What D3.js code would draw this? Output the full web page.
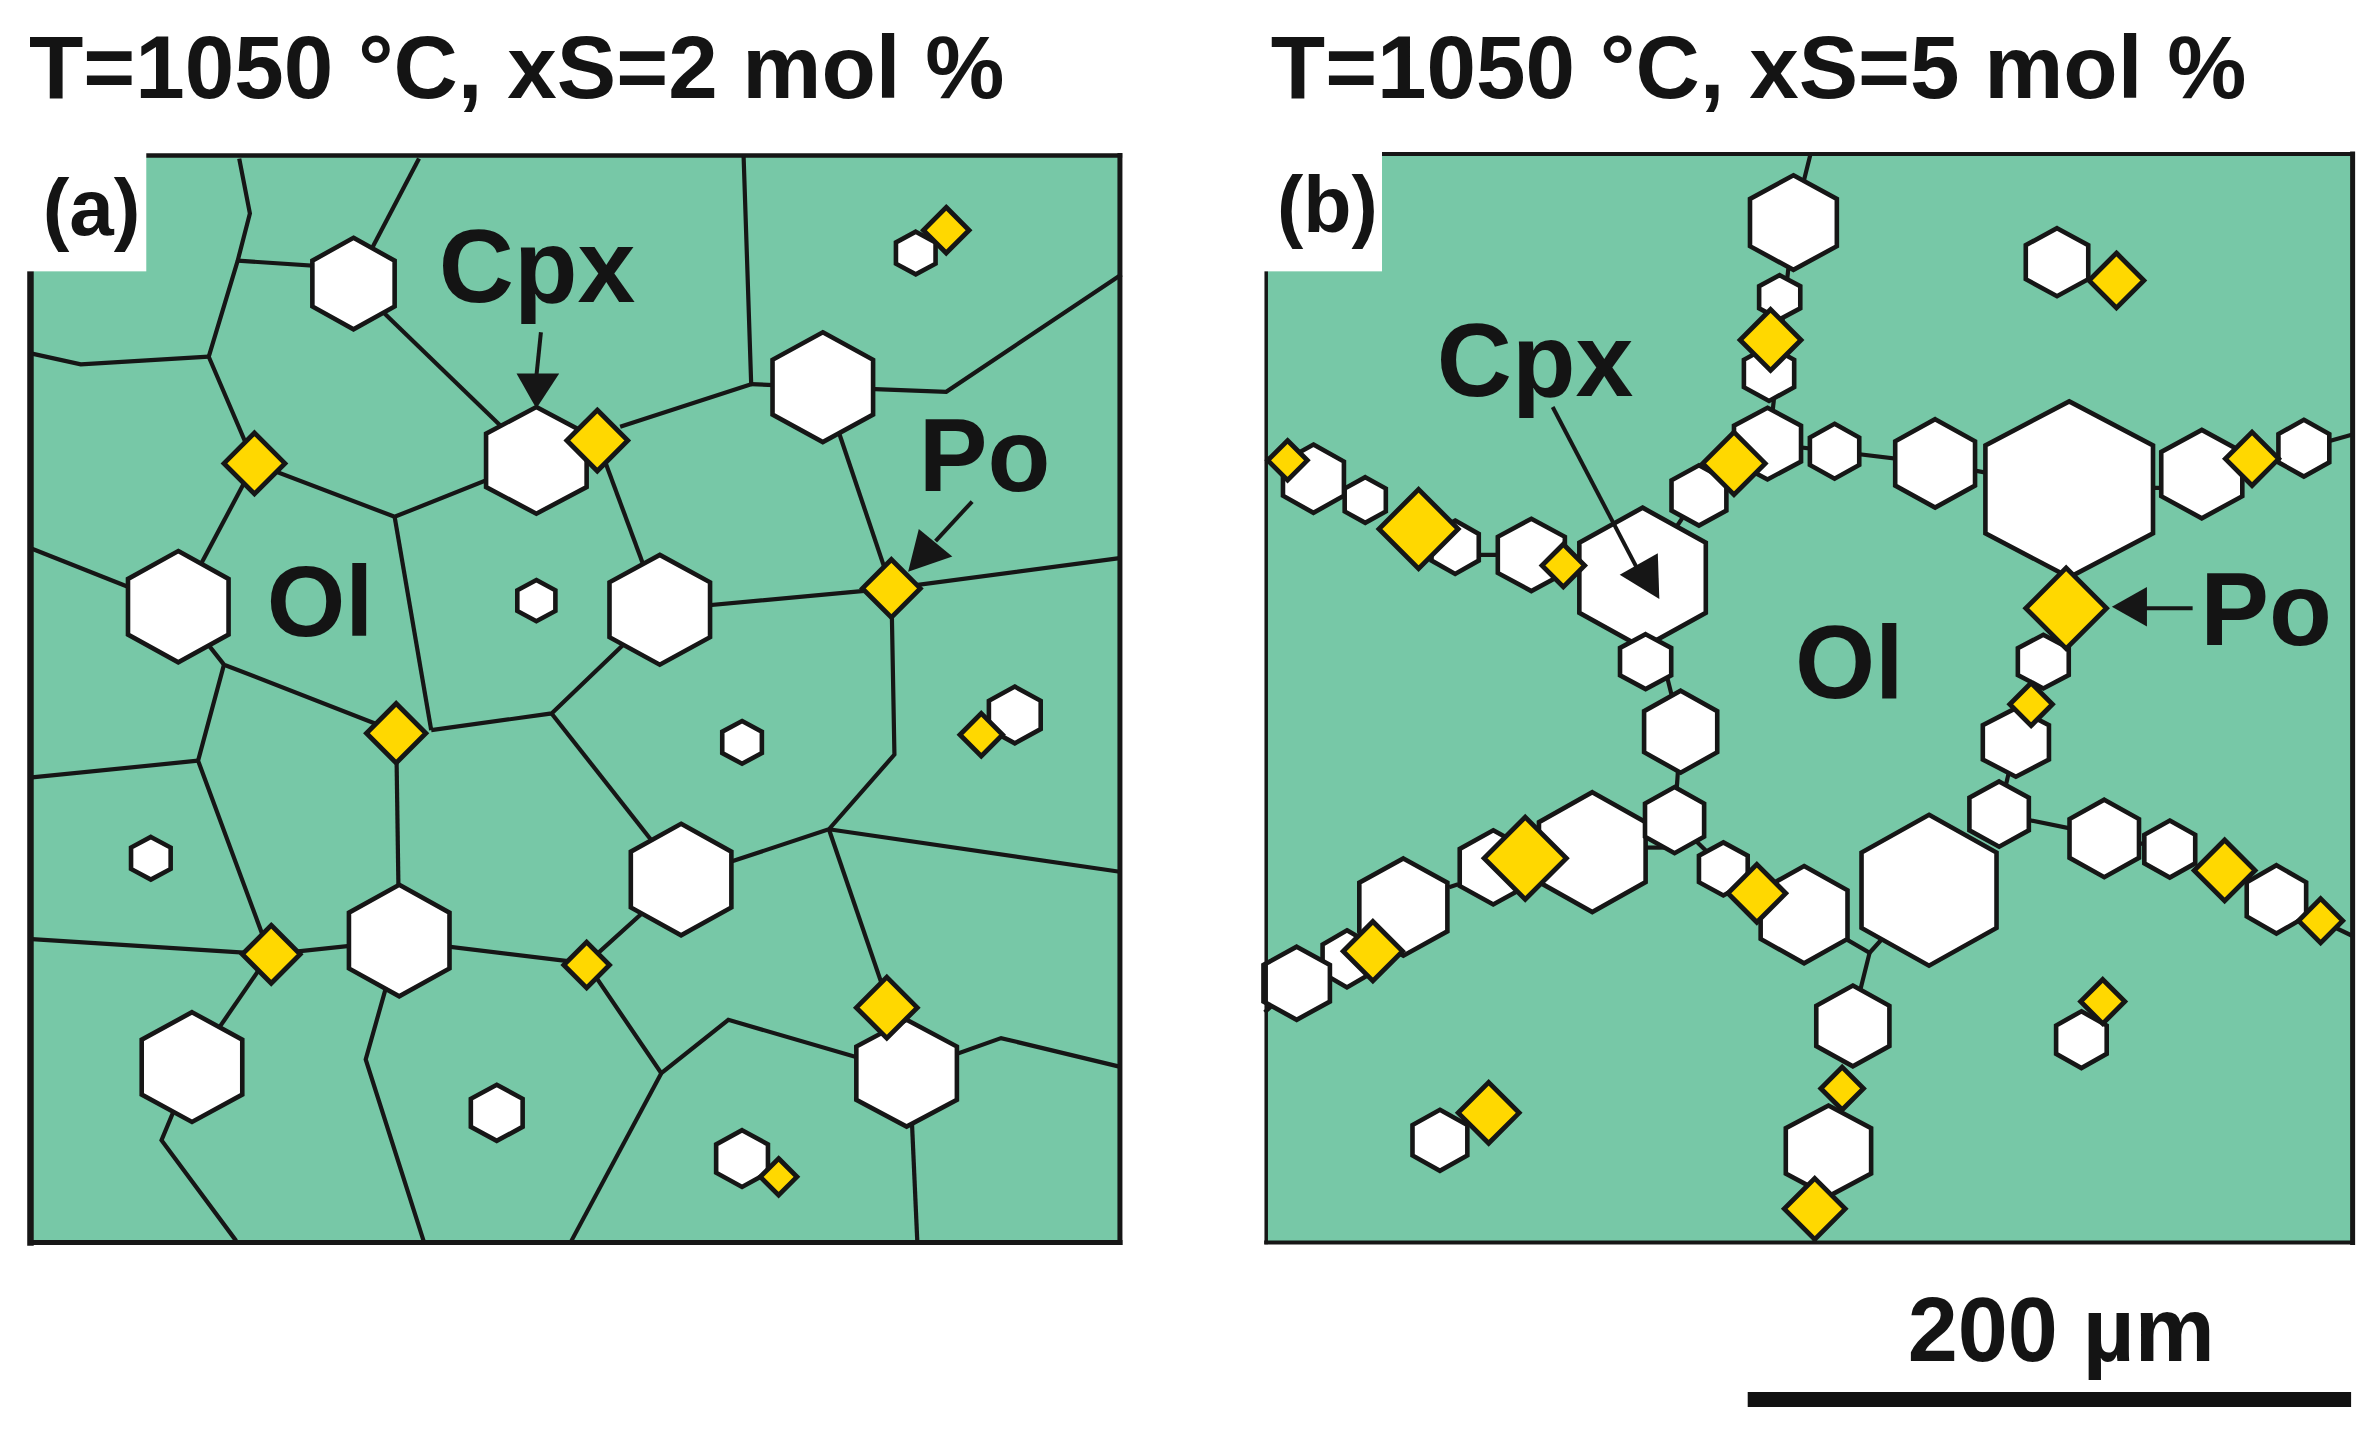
<!DOCTYPE html>
<html>
<head>
<meta charset="utf-8">
<script src="https://cdn.jsdelivr.net/npm/d3@7"></script>
<style>
  html, body { margin: 0; padding: 0; background: #fff; }
  text { font-family: "Liberation Sans", Arial, sans-serif; font-weight: bold; fill: #141414; }
</style>
</head>
<body>
<div id="chart"></div>
<script>

// panels: x0, y0, x1, y1
const panels = [[20, 102, 735, 815], [831, 101, 1544, 815]];
const labelBoxes = [[17, 98, 96, 178], [829, 98, 907, 178]];
// frame thickness: top, right, bottom, left
const frameWidths = [[4.5, 5, 5, 6.5], [4, 5, 4, 3.5]];

// grain boundaries, panel a
const linesA = [
  [[157,104],[164,140],[156,171],[137,234],[167,304]],
  [[156,171],[232,176]],
  [[275,104],[232,186]],
  [[232,186],[352,302]],
  [[21,232],[53,239],[137,234]],
  [[167,304],[259,339],[352,302]],
  [[259,339],[283,479]],
  [[488,102],[493,252],[407,280]],
  [[493,252],[540,254]],
  [[540,254],[621,257],[736,180]],
  [[551,285],[585,386]],
  [[392,289],[422,370]],
  [[433,400],[585,386],[736,366]],
  [[21,360],[117,398]],
  [[167,304],[117,398]],
  [[117,398],[147,436],[260,480]],
  [[147,436],[130,499],[177,626]],
  [[21,510],[130,499]],
  [[21,616],[177,626],[262,617],[385,632]],
  [[177,626],[126,700]],
  [[283,479],[362,468],[433,400]],
  [[362,468],[447,576]],
  [[260,480],[262,617]],
  [[126,700],[106,748],[155,814]],
  [[262,617],[240,695],[278,814]],
  [[585,386],[587,495],[544,544],[447,576]],
  [[544,544],[736,572]],
  [[544,544],[584,661]],
  [[447,576],[385,632],[434,704],[478,669],[595,703]],
  [[595,703],[657,681],[736,700]],
  [[434,704],[375,814]],
  [[597,703],[602,814]]
];

// grain boundaries, panel b
const linesB = [
  [[1188,102],[1177,146]],
  [[1177,146],[1161,291]],
  [[1160,291],[1204,296]],
  [[1114,325],[1078,379]],
  [[1204,296],[1270,304]],
  [[1270,304],[1358,320]],
  [[1358,320],[1445,320]],
  [[1512,294],[1544,285]],
  [[831,301],[845,301]],
  [[954,364],[1004,364]],
  [[1078,379],[1103,480]],
  [[1103,480],[1099,538]],
  [[1080,556],[1094,556]],
  [[1099,538],[1131,569]],
  [[951,582],[957,580]],
  [[830,664],[851,645]],
  [[851,645],[884,629]],
  [[1184,600],[1227,625],[1265,583]],
  [[1227,625],[1215,673]],
  [[1312,534],[1381,548]],
  [[1312,534],[1323,487]],
  [[1381,550],[1424,556]],
  [[1494,590],[1544,614]],
  [[1191,793],[1191,815]]
];

// Cpx grains: x, y, half height, half width
const hexA = [
  [232,186,30,27], [352,302,35,33], [117,398,36.5,33], [352,394,13.5,12.5],
  [433,400,36,33], [540,254,36,33], [601,166,14,13], [666,469,18.6,17],
  [487,487,14,13], [99,563,14,13], [447,577,36.6,33], [262,617,36.6,33],
  [126,700,36,33], [326,730,18.4,17], [595,704,35,33], [487,760,18.6,17]
];
const hexB = [
  [1177,146,31,28.5], [1168,195,14.5,13.5], [1161,245,18,16.5], [1160,291,23.5,22],
  [1115,325,19.8,18], [1204,296,18,16.2], [1078,379,46,41.5], [862,314,22.4,20],
  [896,328,15,13.5], [955,359,17.5,15.5], [1005,364,23.7,22], [1350,172,22.3,20.5],
  [1270,304,29,26.2], [1358,321,57.7,55], [1445,311,29,26.6], [1512,294,18.6,16.7],
  [1080,434,18,16.8], [1103,480,26.9,24], [1045,559,39.3,35], [1099,538,21.7,19.4],
  [980,569,24.3,22], [921,595,31.9,28.9], [884,629,18.7,16], [851,645,24,21.8],
  [945,748,20,18], [1131,570,17.4,16], [1184,600,31.9,28.5], [1266,584,49.5,44.3],
  [1323,487,22.5,21.7], [1341,434,17.6,16.7], [1312,534,21.4,19.5], [1381,550,25.4,22.8],
  [1424,557,18.7,16.7], [1494,590,22.4,19.5], [1216,673,26.5,24], [1200,755,29.8,28],
  [1366,682,18.6,16.6]
];

// Po grains: x, y, half diagonal
const diaA = [
  [167,304,20], [392,289,20], [585,386,19], [621,151,15], [260,481,19.5],
  [644,482,14], [178,626,19], [385,633,15], [582,661,20], [511,772,12]
];
const diaB = [
  [1162,223,20], [1138,304,20.5], [845,302,13], [931,347,26], [1026,371,14],
  [1389,184,18], [1478,301,17.5], [1356,399,26.5], [1001,563,27], [901,624,19.5],
  [977,730,20], [1153,586,19], [1333,462,14], [1460,571,20], [1523,604,14.5],
  [1209,714,14], [1191,793,20], [1380,657,14.5]
];

// arrows: shaft from, shaft to, then the three corners of the head
const arrows = [
  [[355,218],[352,247],[339,245],[367,245],[352,268]],
  [[638,329],[614,355],[603,347],[625,365],[596,375]],
  [[1019,267],[1074,372],[1088,363],[1089,393],[1063,377]],
  [[1439,399],[1405,399],[1409,385],[1409,411],[1386,398]]
];

// text: string, x, baseline, font size in px
const labels = [
  ["T=1050 °C, xS=2 mol %", 19, 64, 89],
  ["T=1050 °C, xS=5 mol %", 834, 64, 89],
  ["(a)", 28, 154, 80],
  ["(b)", 838, 152, 79],
  ["Cpx", 288, 198, 104],
  ["Po", 603, 322, 103],
  ["Ol", 175, 417, 101],
  ["Cpx", 943, 260, 104],
  ["Ol", 1178, 458, 103],
  ["Po", 1444, 423, 103],
  ["200 µm", 1252, 893, 90]
];

const scaleBar = [1147, 918, 1543];

const width = 2377, height = 1436;
const x = d3.scaleLinear().domain([0, 1560]).range([0, width]);
const y = d3.scaleLinear().domain([0, 942]).range([0, height]);

const ink = "#161616";
const line = d3.line().x(d => x(d[0])).y(d => y(d[1]));

const svg = d3.select("#chart").append("svg")
  .attr("width", width)
  .attr("height", height)
  .style("display", "block");

// hexagon with points up and down
function hexPoints(d) {
  const [cx, cy, r, w] = d;
  return [[cx,cy-r],[cx+w,cy-r/2],[cx+w,cy+r/2],[cx,cy+r],[cx-w,cy+r/2],[cx-w,cy-r/2]];
}

function diamondPoints(d) {
  const [cx, cy, r] = d;
  return [[cx,cy-r],[cx+r,cy],[cx,cy+r],[cx-r,cy]];
}

function drawPanel(box, frame, labelBox, lines, hexes, diamonds) {
  let g = svg.append("g");
  const [x0, y0, x1, y1] = box;

  g.append("rect")
    .attr("x", x(x0))
    .attr("y", y(y0))
    .attr("width", x(x1) - x(x0))
    .attr("height", y(y1) - y(y0))
    .attr("fill", "#77c8a7");

  g.selectAll("path.boundary")
    .data(lines)
    .enter()
    .append("path")
    .attr("class", "boundary")
    .attr("d", line)
    .attr("fill", "none")
    .attr("stroke", ink)
    .attr("stroke-width", 4.2);

  g.selectAll("path.hex")
    .data(hexes)
    .enter()
    .append("path")
    .attr("class", "hex")
    .attr("d", d => line(hexPoints(d)) + "Z")
    .attr("fill", "#fff")
    .attr("stroke", ink)
    .attr("stroke-width", 4.6);

  g.selectAll("path.dia")
    .data(diamonds)
    .enter()
    .append("path")
    .attr("class", "dia")
    .attr("d", d => line(diamondPoints(d)) + "Z")
    .attr("fill", "#ffd800")
    .attr("stroke", ink)
    .attr("stroke-width", 4.8);

  // four sides, they are not equally thick
  const sides = [
    [[x0, y0], [x1, y0]],
    [[x1, y0], [x1, y1]],
    [[x0, y1], [x1, y1]],
    [[x0, y0], [x0, y1]]
  ];
  g.selectAll("path.side")
    .data(sides)
    .enter()
    .append("path")
    .attr("class", "side")
    .attr("d", line)
    .attr("stroke", ink)
    .attr("stroke-linecap", "square")
    .attr("stroke-width", (d, i) => frame[i]);

  g.append("rect")
    .attr("x", x(labelBox[0]))
    .attr("y", y(labelBox[1]))
    .attr("width", x(labelBox[2]) - x(labelBox[0]))
    .attr("height", y(labelBox[3]) - y(labelBox[1]))
    .attr("fill", "#fff");
}

drawPanel(panels[0], frameWidths[0], labelBoxes[0], linesA, hexA, diaA);
drawPanel(panels[1], frameWidths[1], labelBoxes[1], linesB, hexB, diaB);

// arrows
svg.selectAll("path.shaft")
  .data(arrows)
  .enter()
  .append("path")
  .attr("class", "shaft")
  .attr("d", d => line(d.slice(0, 2)))
  .attr("stroke", ink)
  .attr("stroke-width", 4);

svg.selectAll("path.head")
  .data(arrows)
  .enter()
  .append("path")
  .attr("class", "head")
  .attr("d", d => line(d.slice(2)) + "Z")
  .attr("fill", ink);

// text
svg.selectAll("text")
  .data(labels)
  .enter()
  .append("text")
  .attr("x", d => x(d[1]))
  .attr("y", d => y(d[2]))
  .attr("font-size", d => d[3])
  .text(d => d[0]);

// scale bar
svg.append("path")
  .attr("d", line([[scaleBar[0], scaleBar[1]], [scaleBar[2], scaleBar[1]]]))
  .attr("stroke", "#111")
  .attr("stroke-width", 15);
</script>
</body>
</html>
